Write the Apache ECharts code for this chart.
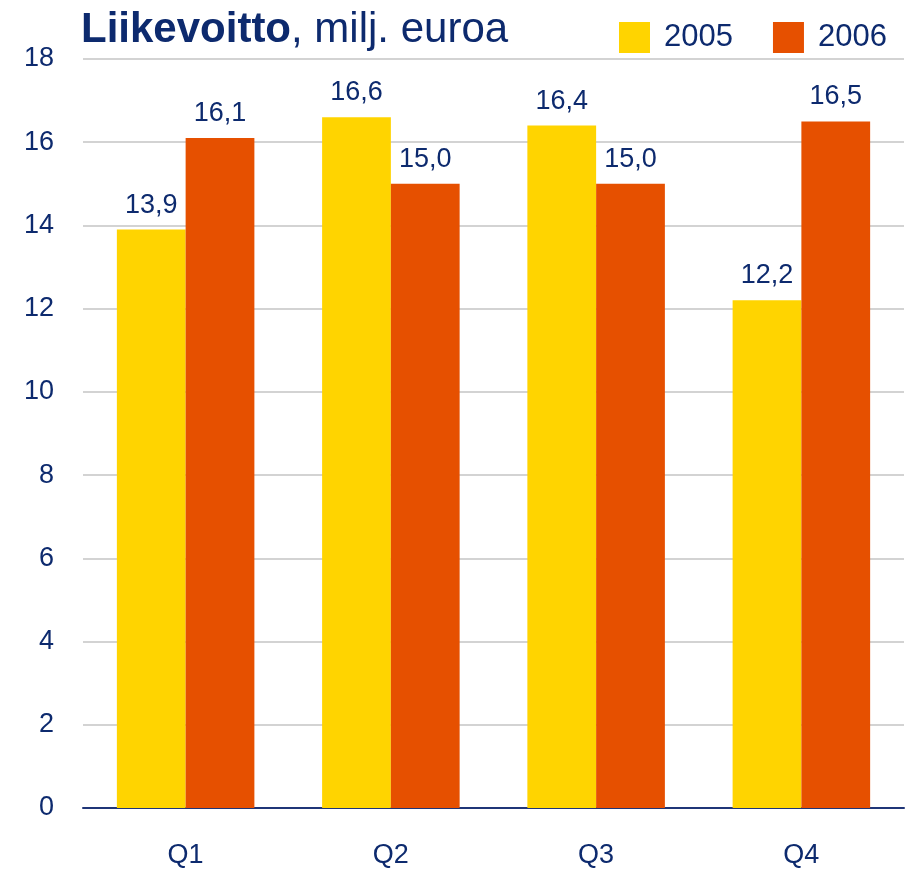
<!DOCTYPE html>
<html>
<head>
<meta charset="utf-8">
<script src="https://cdn.jsdelivr.net/npm/echarts@6/dist/echarts.min.js"></script>
<style>
  html, body { margin: 0; padding: 0; background: #fff; }
  #container { width: 910px; height: 869px; }
</style>
</head>
<body>
<div id="container"></div>
<script>
var myChart = echarts.init(document.getElementById('container'));

// data
var quarters = ['Q1', 'Q2', 'Q3', 'Q4'];
var values2005 = [13.9, 16.6, 16.4, 12.2];
var values2006 = [16.1, 15.0, 15.0, 16.5];
var yTicks = [0, 2, 4, 6, 8, 10, 12, 14, 16, 18];

var navy = '#0d2a6e';
var font = 'Arial, "Liberation Sans", sans-serif';

function fmt(p) {
  return p.value.toFixed(1).replace('.', ',');
}

var labelStyle = {
  show: true,
  position: 'top',
  distance: 11,
  color: navy,
  fontSize: 27,
  fontFamily: font,
  formatter: fmt
};

var option = {
  backgroundColor: '#fff',
  animation: false,
  title: {
    text: '{b|Liikevoitto}{n|, milj. euroa}',
    left: 76,
    top: 4,
    textStyle: {
      rich: {
        b: { fontSize: 42, fontWeight: 'bold', color: navy, fontFamily: font },
        n: { fontSize: 42, fontWeight: 'normal', color: navy, fontFamily: font }
      }
    }
  },
  legend: {
    left: 614,
    top: 17,
    itemWidth: 31,
    itemHeight: 31,
    itemGap: 40,
    icon: 'rect',
    textStyle: { color: navy, fontSize: 31, fontFamily: font, padding: [0, 0, 0, 9] },
    data: ['2005', '2006']
  },
  grid: {
    left: 83,
    right: 6,
    top: 59,
    bottom: 61
  },
  xAxis: {
    type: 'category',
    data: quarters,
    axisTick: { show: false },
    axisLine: { lineStyle: { color: '#1f3577', width: 2 } },
    axisLabel: { color: navy, fontSize: 27, fontFamily: font, margin: 34 }
  },
  yAxis: {
    type: 'value',
    min: yTicks[0],
    max: yTicks[yTicks.length - 1],
    interval: 2,
    axisLine: { show: false },
    axisTick: { show: false },
    axisLabel: { color: navy, fontSize: 27, fontFamily: font, margin: 29 },
    splitLine: { lineStyle: { color: '#c4c4c4', width: 1.5 } }
  },
  series: [
    {
      name: '2005',
      type: 'bar',
      data: values2005,
      barGap: '0%',
      barCategoryGap: '33%',
      itemStyle: { color: '#ffd400' },
      label: labelStyle
    },
    {
      name: '2006',
      type: 'bar',
      data: values2006,
      itemStyle: { color: '#e65000' },
      label: labelStyle
    }
  ]
};

myChart.setOption(option);
</script>
</body>
</html>
